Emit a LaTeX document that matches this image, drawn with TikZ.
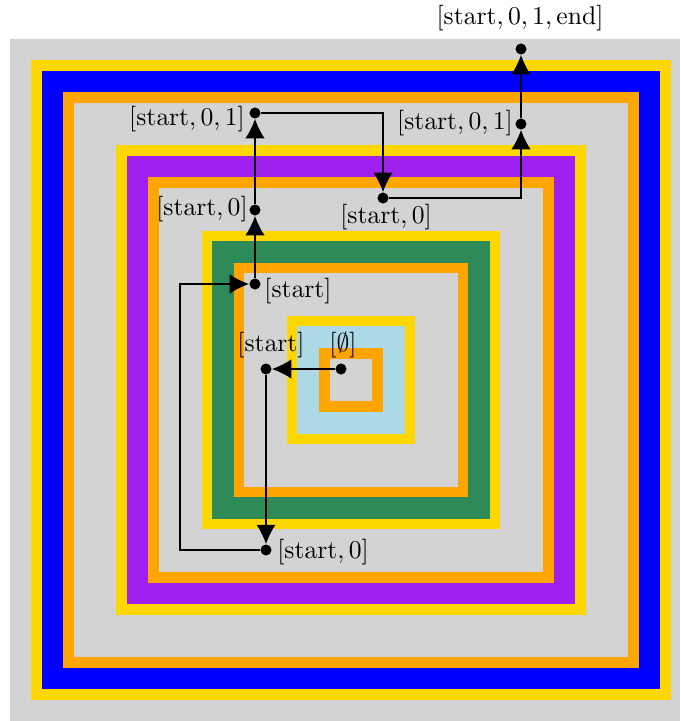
\documentclass[tikz,border=0pt]{standalone}
\usepackage{xcolor}
\usepackage{tikz}
\usetikzlibrary{arrows.meta,positioning,calc}

\definecolor{bggray}{RGB}{211,211,211}
\definecolor{gold}{RGB}{255,215,0}
\definecolor{frameblue}{RGB}{0,0,255}
\definecolor{frameorange}{RGB}{255,165,0}
\definecolor{framepurple}{RGB}{160,32,240}
\definecolor{framegreen}{RGB}{46,139,87}
\definecolor{frameltblue}{RGB}{173,216,230}

\begin{document}
\begin{tikzpicture}[x=0.39pt,y=-0.39pt,
	dot/.style={circle,fill=black,inner sep=0pt,minimum size=4.3pt},
	arr/.style={-{Latex[length=7.5pt,width=7.5pt]},line width=0.4pt}]
	\useasboundingbox (0,0) rectangle (680,721);
	
	% background
	\fill[bggray] (10,39) rectangle (680,721);
	
	% nested frames, outside in
	\foreach \h/\c in {320/gold,309/frameblue,288/frameorange,277/bggray,
		235/gold,224/framepurple,203/frameorange,192/bggray,
		149/gold,139/framegreen,117/frameorange,107/bggray,
		64/gold,54/frameltblue,32/frameorange,21/bggray}
		\fill[\c] (351-\h,380-\h) rectangle (351+\h,380+\h);
	
	% states
	\node[dot] (empty) at (341,369) {};
	\node[dot] (st1) at (266,369) {};
	\node[dot] (st0b) at (266,550) {};
	\node[dot] (st2) at (255,284) {};
	\node[dot] (st0a) at (255,210) {};
	\node[dot] (st01a) at (255,113) {};
	\node[dot] (st0m) at (383,198) {};
	\node[dot] (st01b) at (521,124) {};
	\node[dot] (fin) at (521,49) {};
	
	\node (lempty) at (343,345) {$[\emptyset]$};
	\node (lst1) at (271,345) {$[\mathrm{start}]$};
	\node (lst2) at (298,291) {$[\mathrm{start}]$};
	\node (lst0b) at (323,552) {$[\mathrm{start},0]$};
	\node (lst0a) at (202,209) {$[\mathrm{start},0]$};
	\node (lst01a) at (187,119) {$[\mathrm{start},0,1]$};
	\node (lst0m) at (386,217) {$[\mathrm{start},0]$};
	\node (lst01b) at (455,123) {$[\mathrm{start},0,1]$};
	\node (lfin) at (520,18) {$[\mathrm{start},0,1,\mathrm{end}]$};
	
	% transitions
	\coordinate (bend) at (180,550);
	\draw[arr] (empty) -- (st1);
	\draw[arr] (st1) -- (st0b);
	\draw[arr] (st0b) -- (bend) |- (st2);
	\draw[arr] (st2) -- (st0a);
	\draw[arr] (st0a) -- (st01a);
	\draw[arr] (st01a) -| (st0m);
	\draw[arr] (st0m) -| (st01b);
	\draw[arr] (st01b) -- (fin);
\end{tikzpicture}
\end{document}
